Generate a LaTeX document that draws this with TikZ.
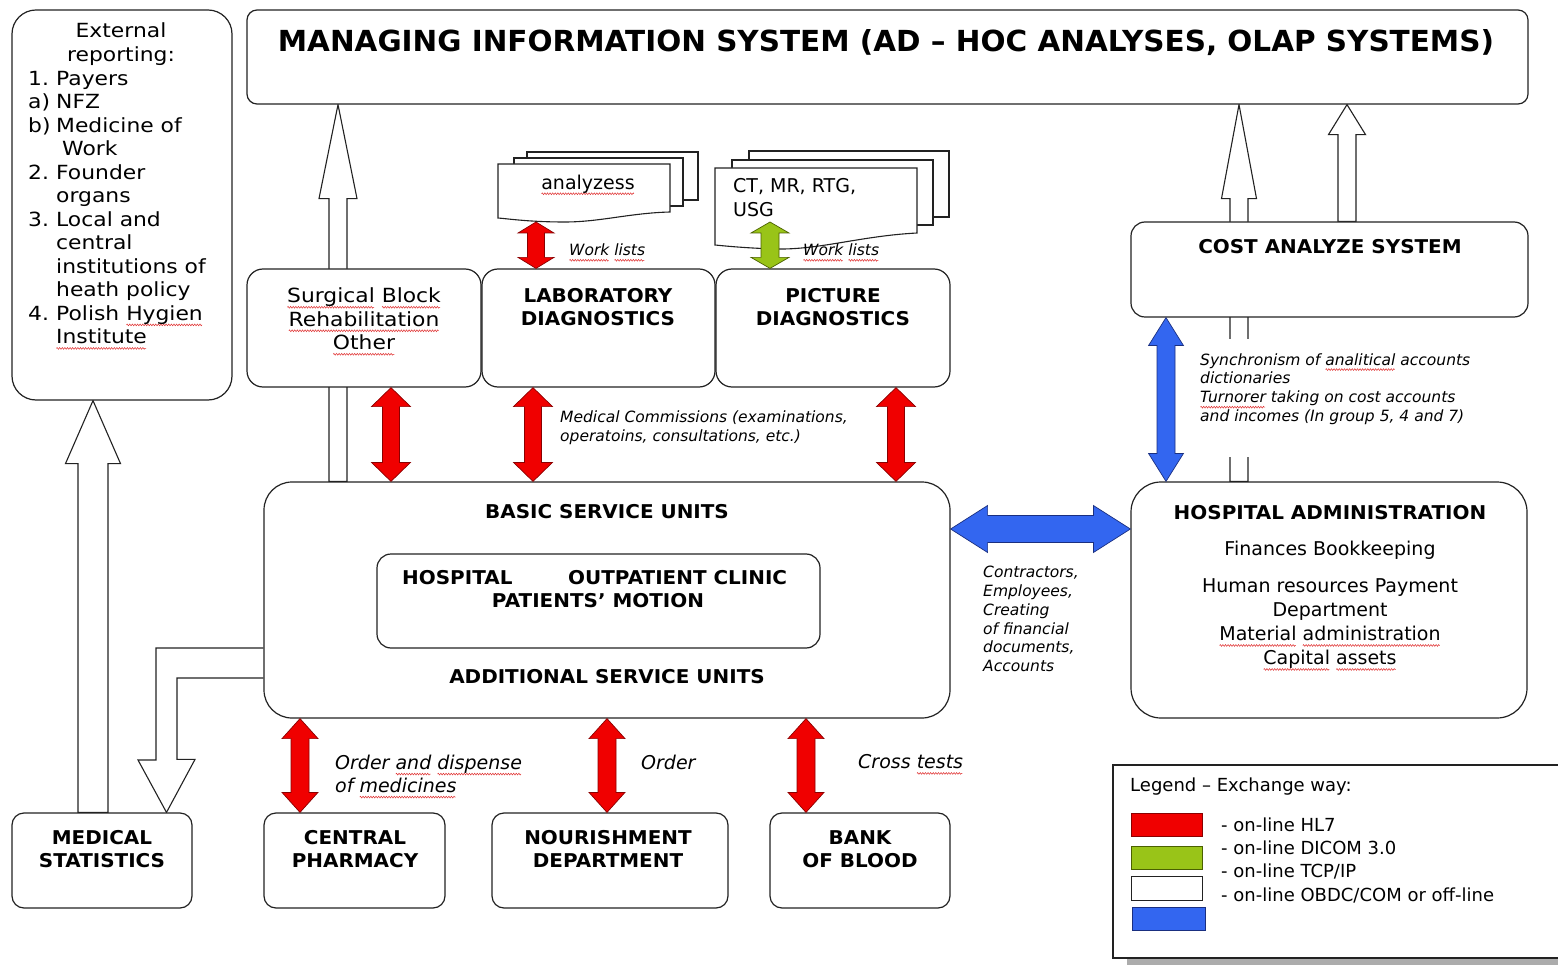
\documentclass[tikz,border=0pt]{standalone}
\usepackage{fontspec}
\usepackage{graphicx}
\setmainfont{DejaVu Sans}[BoldFeatures={FakeStretch=1.05}]
\newfontfamily\widefont{DejaVu Sans}[FakeStretch=1.12]
\usetikzlibrary{calc,fit,backgrounds,decorations.pathmorphing}
\definecolor{hlred}{HTML}{F00000}
\definecolor{hlredd}{HTML}{8A0000}
\definecolor{dgreen}{HTML}{99C418}
\definecolor{dgreend}{HTML}{4A6000}
\definecolor{tblue}{HTML}{3366F0}
\definecolor{tblued}{HTML}{1A2F80}
\definecolor{boxline}{HTML}{222222}
\definecolor{sqred}{HTML}{E03030}
\newsavebox{\sqbox}
\newcommand{\sq}[1]{\sbox{\sqbox}{#1}\rlap{\smash{\tikz[baseline=0pt,x=1pt,y=1pt]
  \draw[sqred,line width=0.5pt,decorate,decoration={zigzag,amplitude=0.9pt,segment length=2.6pt}]
  (0.5,-4.5) -- (\the\wd\sqbox-0.5pt,-4.5);}}\usebox{\sqbox}}
% vertical double arrow: style, top, bottom, shaft half, head half, head length
\newcommand{\vdarrow}[6]{\filldraw[#1] let \p1=(#2), \p2=(#3) in
 (\x1,\y1) -- (\x1+#5,\y1-#6) -- (\x1+#4,\y1-#6) -- (\x1+#4,\y2+#6) -- (\x1+#5,\y2+#6) -- (\x1,\y2)
 -- (\x1-#5,\y2+#6) -- (\x1-#4,\y2+#6) -- (\x1-#4,\y1-#6) -- (\x1-#5,\y1-#6) -- cycle;}
% horizontal double arrow: style, left, right, shaft half, head half, head length
\newcommand{\hdarrow}[6]{\filldraw[#1] let \p1=(#2), \p2=(#3) in
 (\x1,\y1) -- (\x1+#6,\y1+#5) -- (\x1+#6,\y1+#4) -- (\x2-#6,\y1+#4) -- (\x2-#6,\y1+#5) -- (\x2,\y1)
 -- (\x2-#6,\y1-#5) -- (\x2-#6,\y1-#4) -- (\x1+#6,\y1-#4) -- (\x1+#6,\y1-#5) -- cycle;}
% hollow up arrow: style, tip, tail, shaft half, head half, head length
\newcommand{\uparr}[6]{\filldraw[#1] let \p1=(#2), \p2=(#3) in
 (\x1,\y1) -- (\x1+#5,\y1-#6) -- (\x1+#4,\y1-#6) -- (\x1+#4,\y2) -- (\x1-#4,\y2) -- (\x1-#4,\y1-#6) -- (\x1-#5,\y1-#6) -- cycle;}
\begin{document}
\begin{tikzpicture}[x=1pt,y=-1pt,line join=miter,
 box/.style={draw=boxline,line width=1.2pt,fill=white,inner sep=0pt,rounded corners=#1},
 box/.default=14pt,
 doc/.style={draw=boxline,line width=1.1pt,fill=white},
 hollow/.style={draw=boxline,line width=1.1pt,fill=white},
 redarr/.style={fill=hlred,draw=hlredd,line width=0.7pt},
 greenarr/.style={fill=dgreen,draw=dgreend,line width=0.7pt},
 bluearr/.style={fill=tblue,draw=tblued,line width=0.7pt},
 btitle/.style={font=\fontsize{19}{23.5}\selectfont\bfseries,align=center,inner sep=0pt},
 ntext/.style={font=\fontsize{19}{24}\selectfont,align=center,inner sep=0pt},
 wtext/.style={font=\fontsize{19.5}{23.5}\selectfont\widefont,inner sep=0pt},
 slabel/.style={font=\fontsize{15.5}{18.8}\selectfont\itshape,align=left,inner sep=0pt,anchor=west},
 blabel/.style={font=\fontsize{19}{23}\selectfont\itshape,align=left,inner sep=0pt,anchor=west},
 legtext/.style={font=\fontsize{18}{22}\selectfont,inner sep=0pt,anchor=west}]
\useasboundingbox (0,0) rectangle (1558,965);
% ---------- boxes
\node[box=10pt,fit={(247,10)(1528,104)}] (mis) {};
\node[box=24pt,fit={(12,10)(232,400)}] (ext) {};
\node[box=16pt,fit={(247,269)(481,387)}] (surg) {};
\node[box=16pt,fit={(482,269)(715,387)}] (lab) {};
\node[box=16pt,fit={(716,269)(950,387)}] (pic) {};
\node[box=14pt,fit={(1131,222)(1528,317)}] (cost) {};
\node[box=28pt,fit={(264,482)(950,718)}] (basic) {};
\node[box=14pt,fit={(377,554)(820,648)}] (inner) {};
\node[box=30pt,fit={(1131,482)(1527,718)}] (hadm) {};
\node[box=12pt,fit={(12,813)(192,908)}] (medstat) {};
\node[box=12pt,fit={(264,813)(445,908)}] (pharm) {};
\node[box=12pt,fit={(492,813)(728,908)}] (nour) {};
\node[box=12pt,fit={(770,813)(950,908)}] (blood) {};
\fill[gray!65] (1127,958) rectangle (1580,968);
\node[box=0pt,fit={(1113,765)(1580,958)}] (legend) {};
% ---------- column coordinates
\coordinate (xS) at (338,0);
\coordinate (xC1) at (1239,0);
\coordinate (xC2) at (1347,0);
\coordinate (xE) at (93,0);
\coordinate (xL) at (166.5,0);
\coordinate (xL1) at (156,0);
\coordinate (yL1) at (0,648);
\coordinate (yL2) at (0,678);
\coordinate (yLh) at (0,760);
\coordinate (xR1) at (391,0);
\coordinate (xR2) at (533,0);
\coordinate (xR3) at (896,0);
\coordinate (xP) at (300,0);
\coordinate (xN) at (607,0);
\coordinate (xB) at (806,0);
\coordinate (xV) at (1166,0);
\coordinate (yH) at (0,529);
\coordinate (anadoc) at (536,222);
\coordinate (ctdoc) at (770,222);
% ---------- hollow (white) arrows behind the boxes
\begin{scope}[on background layer]
\fill[white] (0,0) rectangle (1558,965);
\uparr{hollow}{mis.south -| xS}{basic.north -| xS}{9pt}{19pt}{94pt}
\uparr{hollow}{mis.south -| xC1}{hadm.north -| xC1}{9pt}{17.5pt}{94pt}
\uparr{hollow}{mis.south -| xC2}{cost.north -| xC2}{9pt}{18.5pt}{30pt}
\uparr{hollow}{ext.south -| xE}{medstat.north -| xE}{15pt}{27.5pt}{63pt}
\filldraw[hollow] (basic.west |- yL1) -| (xL1 |- yLh) -- ++(-18,0) -- (medstat.north -| xL)
  -- ++(28.5,-53) -- ++(-18,0) |- (basic.west |- yL2);
\end{scope}
\fill[white] (1224,339) rectangle (1254,457);
% ---------- document stacks
\filldraw[doc] (527,152) rectangle (698,200);
\filldraw[doc] (514,158) rectangle (683,206);
\filldraw[doc] (498,164) -- (670,164) -- (670,212) .. controls (630,213) and (600,222) .. (565,222)
  .. controls (530,222) and (510,219) .. (498,218) -- cycle;
\filldraw[doc] (749,151) rectangle (949,217);
\filldraw[doc] (732,160) rectangle (933,225);
\filldraw[doc] (715,168) -- (917,168) -- (917,233) .. controls (860,236) and (820,250) .. (775,249)
  .. controls (745,248) and (725,246) .. (715,245) -- cycle;
% ---------- coloured arrows
\vdarrow{redarr}{anadoc}{lab.north -| anadoc}{8.5pt}{18pt}{11pt}
\vdarrow{greenarr}{ctdoc}{pic.north -| ctdoc}{9pt}{19pt}{11pt}
\vdarrow{redarr}{surg.south -| xR1}{basic.north -| xR1}{8.5pt}{19.5pt}{19pt}
\vdarrow{redarr}{lab.south -| xR2}{basic.north -| xR2}{8.5pt}{19.5pt}{19pt}
\vdarrow{redarr}{pic.south -| xR3}{basic.north -| xR3}{8.5pt}{19.5pt}{19pt}
\vdarrow{redarr}{basic.south -| xP}{pharm.north -| xP}{9pt}{18pt}{20pt}
\vdarrow{redarr}{basic.south -| xN}{nour.north -| xN}{9pt}{18pt}{20pt}
\vdarrow{redarr}{basic.south -| xB}{blood.north -| xB}{9pt}{18pt}{20pt}
\vdarrow{bluearr}{cost.south -| xV}{hadm.north -| xV}{9pt}{17.5pt}{28pt}
\hdarrow{bluearr}{basic.east |- yH}{hadm.west |- yH}{13.5pt}{23.5pt}{37pt}
% ---------- texts
\node[anchor=base,inner sep=0pt] (mist) at (886,52)
  {\resizebox{1216pt}{22pt}{\bfseries MANAGING INFORMATION SYSTEM (AD – HOC ANALYSES, OLAP SYSTEMS)}};
\node[wtext,align=center] (exth) at (121,44) {External\\reporting:};
\node[wtext,align=left,anchor=north west] (extl) at (28,71) {%
\makebox[28pt][l]{1.}Payers\\
\makebox[28pt][l]{a)}NFZ\\
\makebox[28pt][l]{b)}Medicine of\\
\hspace*{34pt}Work\\
\makebox[28pt][l]{2.}Founder\\
\hspace*{28pt}organs\\
\makebox[28pt][l]{3.}Local and\\
\hspace*{28pt}central\\
\hspace*{28pt}institutions of\\
\hspace*{28pt}heath policy\\
\makebox[28pt][l]{4.}Polish \sq{Hygien}\\
\hspace*{28pt}\sq{Institute}};
\node[wtext,align=center] (surgt) at (364,319) {\sq{Surgical} \sq{Block}\\\sq{Rehabilitation}\\\sq{Other}};
\node[btitle] (labt) at (598,307) {LABORATORY\\DIAGNOSTICS};
\node[btitle] (pict) at (833,307) {PICTURE\\DIAGNOSTICS};
\node[btitle] (costt) at (1330,247) {COST ANALYZE SYSTEM};
\node[btitle] (basict) at (607,512) {BASIC SERVICE UNITS};
\node[btitle,anchor=west] (hospt) at (402,578) {HOSPITAL};
\node[btitle,anchor=west] (outt) at (568,578) {OUTPATIENT CLINIC};
\node[btitle] (patt) at (598,601) {PATIENTS’ MOTION};
\node[btitle] (addt) at (607,677) {ADDITIONAL SERVICE UNITS};
\node[btitle] (hadmt) at (1330,513) {HOSPITAL ADMINISTRATION};
\node[ntext] (fint) at (1330,550) {Finances Bookkeeping};
\node[ntext] (hrt) at (1330,624)
  {Human resources Payment\\Department\\\sq{Material} \sq{administration}\\\sq{Capital} \sq{assets}};
\node[btitle] (medt) at (102,849) {MEDICAL\\STATISTICS};
\node[btitle] (pharmt) at (355,849) {CENTRAL\\PHARMACY};
\node[btitle] (nourt) at (608,849) {NOURISHMENT\\DEPARTMENT};
\node[btitle] (bloodt) at (860,849) {BANK\\OF BLOOD};
\node[ntext] (anat) at (588,184) {\sq{analyzess}};
\node[ntext,align=left,anchor=west] (ctt) at (733,198) {CT, MR, RTG,\\USG};
\node[slabel] (wl1) at (569,250) {\sq{Work} \sq{lists}};
\node[slabel] (wl2) at (803,250) {\sq{Work} \sq{lists}};
\node[slabel] (medc) at (560,428) {Medical Commissions (examinations,\\operatoins, consultations, etc.)};
\node[slabel] (syn) at (1200,389) {Synchronism of \sq{analitical} accounts\\dictionaries\\\sq{Turnorer} taking on cost accounts\\and incomes (In group 5, 4 and 7)};
\node[slabel] (contr) at (983,619) {Contractors,\\Employees,\\Creating\\of financial\\documents,\\Accounts};
\node[blabel] (ordd) at (335,774) {Order \sq{and} \sq{dispense}\\of \sq{medicines}};
\node[blabel] (ord) at (641,762) {Order};
\node[blabel] (cross) at (858,762) {Cross \sq{tests}};
% ---------- legend
\node[legtext] (legt) at (1130,787) {Legend – Exchange way:};
\node[draw=hlredd,fill=hlred,line width=0.8pt,inner sep=0pt,fit={(1131,813)(1202,836)}] (lr) {};
\node[draw=dgreend,fill=dgreen,line width=0.8pt,inner sep=0pt,fit={(1131,846)(1202,869)}] (lg) {};
\node[draw=boxline,fill=white,line width=0.8pt,inner sep=0pt,fit={(1131,876)(1202,900)}] (lw) {};
\node[draw=tblued,fill=tblue,line width=0.8pt,inner sep=0pt,fit={(1132,907)(1205,930)}] (lb) {};
\node[legtext] (l1) at (1221,825) {- on-line HL7};
\node[legtext] (l2) at (1221,848) {- on-line DICOM 3.0};
\node[legtext] (l3) at (1221,871) {- on-line TCP/IP};
\node[legtext] (l4) at (1221,895) {- on-line OBDC/COM or off-line};
\end{tikzpicture}
\end{document}
